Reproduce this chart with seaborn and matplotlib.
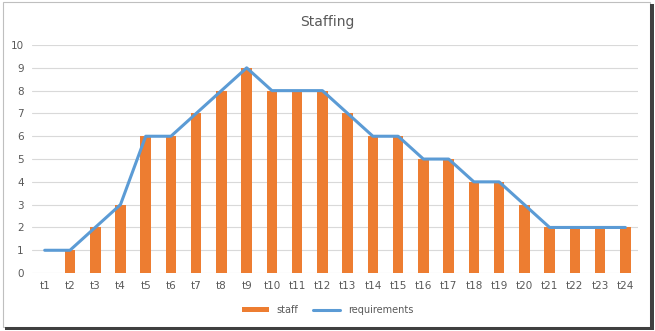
import matplotlib
matplotlib.use("Agg")
import matplotlib.pyplot as plt
import seaborn as sns
import pandas as pd
from matplotlib.patches import Rectangle, Patch
from matplotlib.lines import Line2D

periods = [f"t{i}" for i in range(1, 25)]
staff = [0, 1, 2, 3, 6, 6, 7, 8, 9, 8, 8, 8, 7, 6, 6, 5, 5, 4, 4, 3, 2, 2, 2, 2]
requirements = [1, 1, 2, 3, 6, 6, 7, 8, 9, 8, 8, 8, 7, 6, 6, 5, 5, 4, 4, 3, 2, 2, 2, 2]

sns.set_theme(style="white")
plt.rcParams['font.family'] = ['DejaVu Sans']

df = pd.DataFrame({"period": periods, "staff": staff, "requirements": requirements,
                   "pos": range(len(periods))})

fig = plt.figure(figsize=(6.55, 3.31), dpi=100)
ax = fig.add_axes([0.049, 0.175, 0.925, 0.689])

orange = "#ED7D31"
blue = "#5B9BD5"
sns.barplot(data=df, x="period", y="staff", color=orange, width=0.42,
            saturation=1, linewidth=0, ax=ax, zorder=2)
sns.lineplot(data=df, x="pos", y="requirements", color=blue, linewidth=2.2,
             ax=ax, zorder=3)

ax.set_ylim(0, 10)
ax.set_xlim(-0.5, len(periods) - 0.5)
ax.set_yticks(range(0, 11))
ax.yaxis.grid(True, color="#D9D9D9", linewidth=0.8)
ax.set_axisbelow(True)
for s in ax.spines.values():
    s.set_visible(False)
ax.set_xlabel("")
ax.set_ylabel("")
ax.tick_params(axis="both", length=0, labelsize=7.5, colors="#595959", pad=6)

fig.text(0.5, 0.935, "Staffing", ha="center", va="center", fontsize=10, color="#595959")

handles = [Patch(facecolor=orange, edgecolor="none"),
           Line2D([0], [0], color=blue, linewidth=2.2)]
fig.legend(handles, ["staff", "requirements"], loc="center", bbox_to_anchor=(0.5, 0.063),
           ncol=2, frameon=False, fontsize=7, labelcolor="#595959",
           handlelength=2.8, handleheight=0.5, columnspacing=1.5)

# frame with shadow
fig.patches.append(Rectangle((0.004, 0.012), 0.988, 0.982, transform=fig.transFigure,
                             facecolor="none", edgecolor="#BFBFBF", linewidth=0.8))
fig.patches.append(Rectangle((0.008, 0.004), 0.988, 0.008, transform=fig.transFigure,
                             facecolor="#404040", edgecolor="none"))
fig.patches.append(Rectangle((0.992, 0.004), 0.006, 0.985, transform=fig.transFigure,
                             facecolor="#404040", edgecolor="none"))

fig.savefig("out.png", dpi=100)
